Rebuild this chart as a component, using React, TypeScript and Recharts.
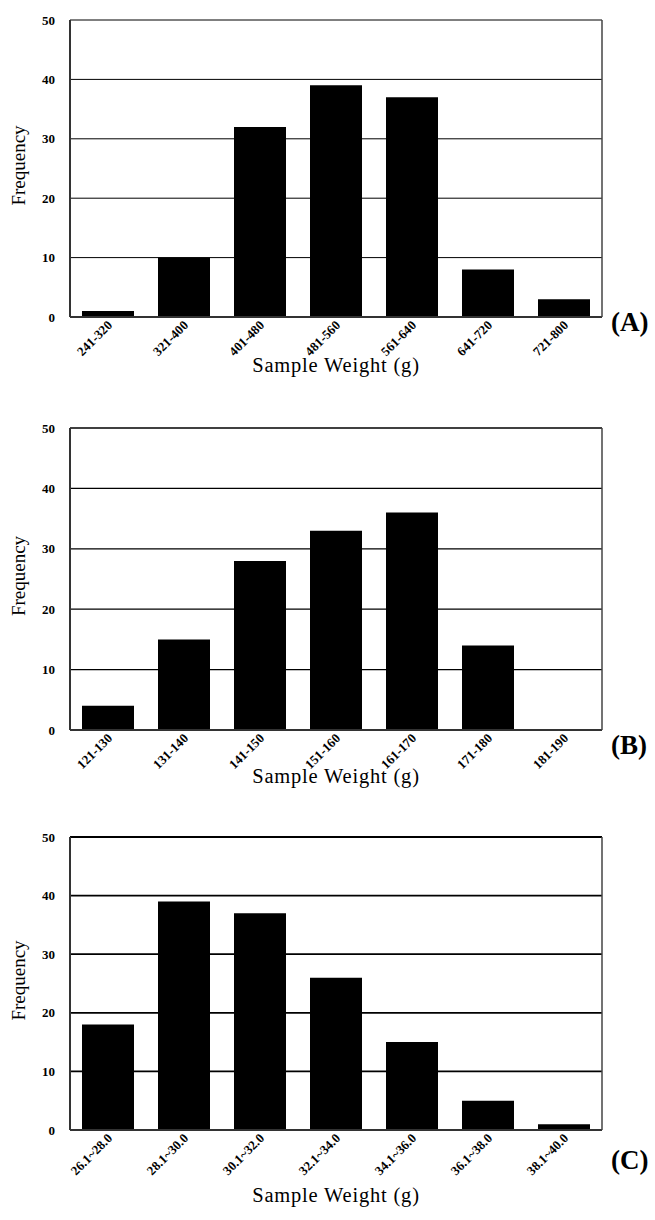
import { BarChart, Bar, XAxis, YAxis, CartesianGrid } from 'recharts';

const SERIF = '"Liberation Serif", "Times New Roman", serif';

// (A) weight classes and counts
const rangesA = ['241-320', '321-400', '401-480', '481-560', '561-640', '641-720', '721-800'];
const freqA = [1, 10, 32, 39, 37, 8, 3];

// (B)
const rangesB = ['121-130', '131-140', '141-150', '151-160', '161-170', '171-180', '181-190'];
const freqB = [4, 15, 28, 33, 36, 14, 0];

// (C)
const rangesC = ['26.1~28.0', '28.1~30.0', '30.1~32.0', '32.1~34.0', '34.1~36.0', '36.1~38.0', '38.1~40.0'];
const freqC = [18, 39, 37, 26, 15, 5, 1];

const yTicks = [0, 10, 20, 30, 40, 50];

function AngledTick({ x, y, payload }: any) {
  return (
    <g transform={`translate(${x + 5},${y + 1})`}>
      <text
        transform="rotate(-45)"
        textAnchor="end"
        fill="#000"
        fontSize={13}
        fontWeight="bold"
        fontFamily={SERIF}
      >
        {payload.value}
      </text>
    </g>
  );
}

function FreqLabel({ viewBox }: any) {
  const cx = 18;
  const cy = viewBox.y + viewBox.height / 2 - 3;
  return (
    <text
      x={cx}
      y={cy}
      transform={`rotate(-90 ${cx} ${cy})`}
      textAnchor="middle"
      dominantBaseline="central"
      fill="#000"
      fontSize={19}
      fontFamily={SERIF}
    >
      Frequency
    </text>
  );
}

type PanelProps = {
  ranges: string[];
  values: number[];
  top: number;
  height: number;
  xAxisHeight: number;
  gridWidth: number;
  letter: string;
  letterTop: number;
};

function Panel({ ranges, values, top, height, xAxisHeight, gridWidth, letter, letterTop }: PanelProps) {
  const data = ranges.map((r, i) => ({ range: r, freq: values[i] }));
  return (
    <>
      <div style={{ position: 'absolute', left: 0, top }}>
        <BarChart width={655} height={height} data={data} margin={{ top: 20, right: 52, bottom: 5, left: 0 }}>
          <CartesianGrid vertical={false} stroke="#000" strokeWidth={gridWidth} />
          <XAxis
            dataKey="range"
            interval={0}
            tickLine={false}
            axisLine={{ stroke: '#333', strokeWidth: 2 }}
            tick={<AngledTick />}
            height={xAxisHeight}
            label={{
              value: 'Sample Weight (g)',
              position: 'insideBottom',
              offset: 0,
              fill: '#000',
              fontSize: 20.5,
              letterSpacing: 0.8,
              fontFamily: SERIF,
            }}
          />
          <YAxis
            domain={[0, 50]}
            ticks={yTicks}
            interval={0}
            width={70}
            tickLine={false}
            tickMargin={9}
            axisLine={{ stroke: '#333', strokeWidth: 2 }}
            tick={{ fill: '#000', fontSize: 13, fontWeight: 'bold', fontFamily: SERIF }}
            label={{ content: <FreqLabel /> }}
          />
          <YAxis
            yAxisId="frame"
            orientation="right"
            domain={[0, 50]}
            tick={false}
            tickLine={false}
            width={1}
            axisLine={{ stroke: '#444', strokeWidth: 1.5 }}
          />
          <Bar dataKey="freq" fill="#000" barSize={52} isAnimationActive={false} />
        </BarChart>
      </div>
      <span
        style={{
          position: 'absolute',
          left: 611,
          top: letterTop,
          fontSize: 27,
          fontWeight: 'bold',
          fontFamily: SERIF,
          lineHeight: '30px',
        }}
      >
        {letter}
      </span>
    </>
  );
}

export default function App() {
  return (
    <div style={{ position: 'absolute', left: 0, top: 0, width: 655, height: 1220, background: '#fff' }}>
      <Panel ranges={rangesA} values={freqA} top={0} height={377} xAxisHeight={55} gridWidth={1} letter="(A)" letterTop={307} />
      <Panel ranges={rangesB} values={freqB} top={408} height={380} xAxisHeight={53} gridWidth={1.3} letter="(B)" letterTop={730} />
      <Panel ranges={rangesC} values={freqC} top={817} height={390} xAxisHeight={72} gridWidth={1.8} letter="(C)" letterTop={1145} />
    </div>
  );
}
